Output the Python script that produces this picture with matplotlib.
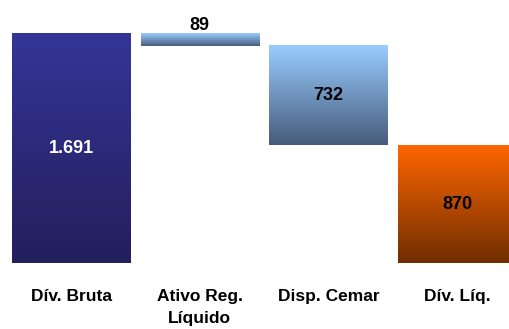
import numpy as np
import matplotlib.pyplot as plt
from matplotlib.colors import LinearSegmentedColormap

categories = ["Dív. Bruta", "Ativo Reg.\nLíquido", "Disp. Cemar", "Dív. Líq."]
values = [1691, 89, 732, 870]
value_labels = ["1.691", "89", "732", "870"]

# waterfall: first and last bars start at zero, intermediate bars step down
bottoms = [0, values[0] - values[1], values[0] - values[1] - values[2], 0]
tops = [b + v for b, v in zip(bottoms, values)]

gradients = [
    ("#353597", "#231f5c"),
    ("#99ccff", "#475d7c"),
    ("#99ccff", "#465c7b"),
    ("#ff6600", "#6f2e00"),
]
label_colors = ["white", "black", "black", "black"]
family = "Liberation Sans"

fig = plt.figure(figsize=(5.09, 3.29), dpi=100)
ax = fig.add_axes([0, 0, 1, 1])
ax.set_xlim(-0.5517, 3.403)
ax.set_ylim(-487.4, 1942)
ax.axis("off")

width = 0.917
for i, (b, t, (c_top, c_bot)) in enumerate(zip(bottoms, tops, gradients)):
    cmap = LinearSegmentedColormap.from_list(f"g{i}", [c_bot, c_top])
    grad = np.linspace(0, 1, 256).reshape(-1, 1)
    x0, x1 = i - width / 2, i + width / 2
    ax.imshow(grad, cmap=cmap, aspect="auto", origin="lower",
              extent=[x0, x1, b, t], interpolation="bicubic", zorder=2)

for i, (b, t) in enumerate(zip(bottoms, tops)):
    y = t + 65 if i == 1 else (b + t) / 2
    ax.text(i, y, value_labels[i], ha="center", va="center", color=label_colors[i],
            fontsize=13, fontweight="bold", family=family, zorder=3)

for i, cat in enumerate(categories):
    ax.text(i, -190, cat, ha="center", va="top", color="black",
            fontsize=12.5, fontweight="bold", family=family,
            linespacing=1.6, zorder=3)

fig.savefig("out.png", dpi=100)
